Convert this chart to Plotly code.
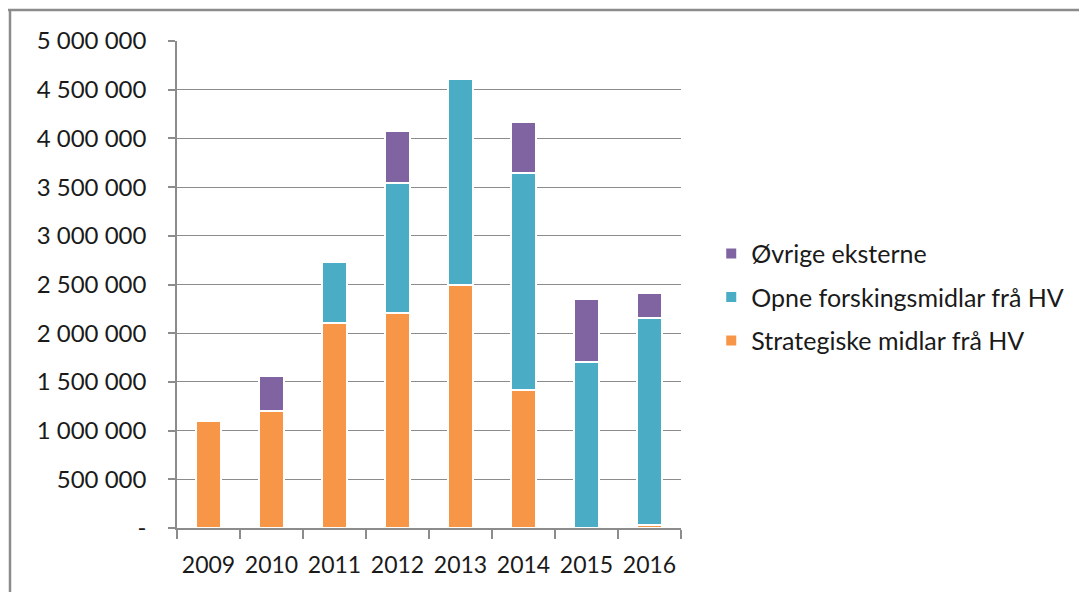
import plotly.graph_objects as go

years = ["2009", "2010", "2011", "2012", "2013", "2014", "2015", "2016"]
strategiske = [1100000, 1200000, 2100000, 2210000, 2500000, 1420000, 0, 35000]
opne = [0, 0, 630000, 1330000, 2110000, 2220000, 1700000, 2125000]
ovrige = [0, 360000, 0, 540000, 0, 530000, 650000, 250000]

series_names = ["Strategiske midlar frå HV", "Opne forskingsmidlar frå HV", "Øvrige eksterne"]
series_colors = ["#F79646", "#4BACC6", "#8064A2"]
series_values = [strategiske, opne, ovrige]

ytick_vals = [0, 500000, 1000000, 1500000, 2000000, 2500000, 3000000, 3500000, 4000000, 4500000, 5000000]
ytick_text = ["-", "500 000", "1 000 000", "1 500 000", "2 000 000", "2 500 000",
              "3 000 000", "3 500 000", "4 000 000", "4 500 000", "5 000 000"]

FONT = "Lato"

fig = go.Figure()
for i, (name, color, vals) in enumerate(zip(series_names, series_colors, series_values)):
    fig.add_trace(go.Bar(
        x=years, y=vals, name=name,
        marker=dict(color=color, line=dict(color="white", width=2)),
        legendgroup=f"g{i}",
        legendrank=1000 - i,
    ))

fig.update_layout(
    barmode="stack",
    bargap=0.6,
    width=1087, height=592,
    margin=dict(l=169, r=414, t=33, b=72),
    paper_bgcolor="white", plot_bgcolor="white",
    font=dict(family=FONT, size=24, color="#1a1a1a"),
    showlegend=True,
    legend=dict(
        x=1.06, y=0.474, xanchor="left", yanchor="middle",
        traceorder="grouped", tracegroupgap=8,
        font=dict(family=FONT, size=25, color="#1a1a1a"),
        itemwidth=30,
    ),
    xaxis=dict(
        type="category", showgrid=False,
        showline=True, linecolor="#8c8c8c", linewidth=1.5,
        ticks="outside", tickson="boundaries", ticklen=9, tickcolor="#8c8c8c", tickwidth=1.5,
        tickfont=dict(family=FONT, size=23, color="#1a1a1a"),
        ticklabelstandoff=16,
    ),
    yaxis=dict(
        range=[0, 5000000],
        tickvals=ytick_vals, ticktext=ytick_text,
        showgrid=True, gridcolor="#8c8c8c", gridwidth=1.3,
        showline=True, linecolor="#8c8c8c", linewidth=1.5,
        ticks="outside", ticklen=7, tickcolor="#8c8c8c", tickwidth=1.5,
        tickfont=dict(family=FONT, size=24, color="#1a1a1a"),
        ticklabelstandoff=17,
        zeroline=False,
    ),
)

# outer frame of the cropped figure
fig.add_shape(type="line", xref="paper", yref="paper",
              x0=-169/504, x1=920/504, y0=(528-10)/487, y1=(528-10)/487,
              line=dict(color="#8c8c8c", width=2.5))
fig.add_shape(type="line", xref="paper", yref="paper",
              x0=-167/504, x1=-167/504, y0=(528-10)/487, y1=-80/487,
              line=dict(color="#8c8c8c", width=2.5))

fig.write_html("out.html")
